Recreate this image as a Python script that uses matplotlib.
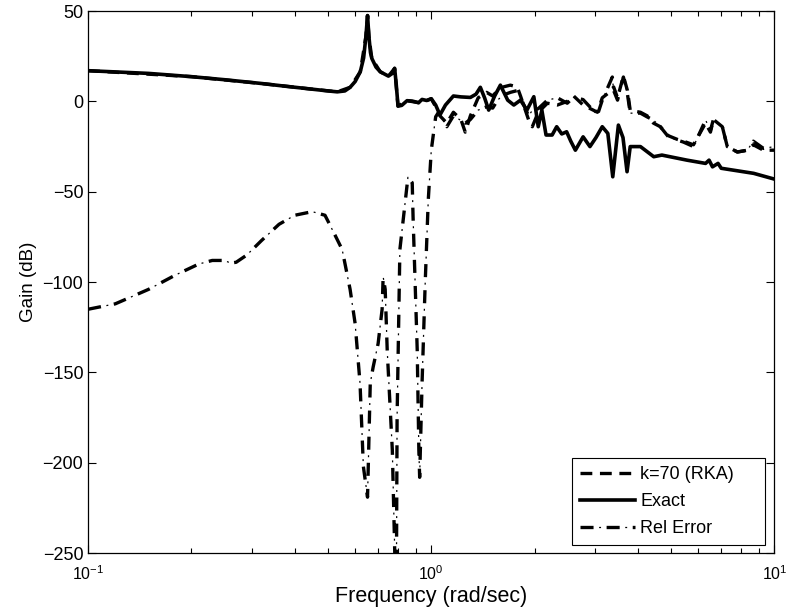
"""Frequency response: exact vs k=70 RKA reduced model and relative error."""
import numpy as np
import matplotlib
matplotlib.use('Agg')
import matplotlib.pyplot as plt

plt.rcParams['font.family'] = ['Liberation Sans', 'DejaVu Sans']
plt.rcParams['mathtext.fontset'] = 'custom'
plt.rcParams['mathtext.rm'] = 'Liberation Sans'
plt.rcParams['mathtext.it'] = 'Liberation Sans:italic'
plt.rcParams['mathtext.bf'] = 'Liberation Sans:bold'
plt.rcParams['lines.scale_dashes'] = False

# --- data (rad/sec, dB) ---
freq_exact = [0.1, 0.15, 0.2, 0.25, 0.317, 0.38, 0.453, 0.5, 0.532, 0.56, 0.58,
              0.6, 0.621, 0.635, 0.645, 0.652, 0.658, 0.665, 0.671, 0.69, 0.71,
              0.75, 0.77, 0.782, 0.79, 0.8, 0.82, 0.85, 0.88, 0.918, 0.94, 0.97,
              1.0, 1.03, 1.06, 1.1, 1.16, 1.22, 1.3, 1.35, 1.39, 1.43, 1.47, 1.53,
              1.59, 1.67, 1.74, 1.82, 1.9, 1.99, 2.05, 2.1, 2.16, 2.25, 2.32, 2.4,
              2.48, 2.55, 2.63, 2.77, 2.9, 3.02, 3.15, 3.27, 3.38, 3.51, 3.62,
              3.72, 3.8, 4.07, 4.45, 4.7, 5.56, 6.3, 6.45, 6.6, 6.85, 7.0, 8.7, 10.0]
gain_exact = [17, 15.5, 13.7, 12, 10, 8.3, 6.7, 5.8, 5.3, 5.8, 7.8,
              11, 16.4, 24, 36, 47.5, 36, 27, 23.8, 19, 16.4,
              14, 15.5, 18.3, 10, -2.6, -2.2, 0.4, 0.2, -0.7, 1.1, 0.5,
              1.5, -2, -7.5, -2, 3, 2.5, 2.2, 4, 7.8, 2, -4.8, 3,
              9, 0.7, -2, 0.7, -4.8, 2.6, -14, -4.8, -18.6, -18.6, -14, -18,
              -16.8, -22, -27, -19.6, -25, -20, -14, -17.7, -41.7, -13.1, -20,
              -38.9, -25, -25, -30.6, -29.7, -32.5, -34.3, -32.5, -36.2, -34.3, -37, -39.8, -43]

freq_rka = [0.1, 0.2, 0.317, 0.453, 0.532, 0.58, 0.621, 0.645, 0.652, 0.658,
            0.671, 0.71, 0.75, 0.782, 0.8, 0.85, 0.918, 0.97,
            1.0, 1.03, 1.06, 1.11, 1.16, 1.22, 1.256, 1.3, 1.37, 1.45, 1.51, 1.56,
            1.62, 1.7, 1.78, 1.82, 1.92, 1.97, 2.05, 2.18, 2.33, 2.49, 2.6, 2.77,
            3.05, 3.15, 3.3, 3.4, 3.49, 3.63, 3.73, 3.8, 4.07, 4.26, 4.44, 4.65,
            4.91, 5.21, 5.43, 5.81, 6.3, 6.51, 6.64, 7.05, 7.29, 7.8, 8.34, 8.68,
            9.29, 10.0]
gain_rka = [17, 13.7, 10, 6.7, 5.3, 7.8, 16.4, 36, 47.5, 36,
            23.8, 16.4, 14, 18.3, -2.6, 0.4, -0.7, 0.5,
            1.5, -3, -8, -12, -6, -10, -17, -8, 2, 5, 3, 6,
            8, 9, 8, 3, -10, -14, -6, -1, -2, 0, 3, -2,
            -6, 2, 5, 8, 2, 14, 6, -5, -6, -8, -12, -14,
            -19, -21, -22, -24, -12, -17, -10, -14, -25, -28, -27, -24,
            -27, -27]

freq_err = [0.1, 0.12, 0.15, 0.18, 0.21, 0.23, 0.25, 0.26, 0.27, 0.29, 0.32,
            0.36, 0.4, 0.45, 0.49, 0.518, 0.55, 0.58, 0.6, 0.62, 0.634, 0.652,
            0.664, 0.677, 0.7, 0.719, 0.724, 0.734, 0.744, 0.77, 0.785, 0.79,
            0.795, 0.81, 0.83, 0.855, 0.88, 0.885, 0.91, 0.92, 0.925, 0.94,
            0.96, 0.98, 1.0, 1.03, 1.05, 1.11, 1.16, 1.256, 1.3, 1.37, 1.45,
            1.51, 1.56, 1.62, 1.7, 1.78, 1.82, 1.92, 1.97, 2.05, 2.18, 2.33,
            2.49, 2.6, 2.77, 3.05, 3.15, 3.37, 3.4, 3.49, 3.63, 3.73, 3.8, 4.07,
            4.26, 4.44, 4.65, 4.91, 5.21, 5.43, 5.81, 6.3, 6.51, 6.64, 7.05,
            7.29, 7.8, 8.34, 8.68, 9.29, 10.0]
gain_err = [-115, -112, -104, -96, -90, -88, -88, -89.5, -89, -85, -77,
            -68, -63, -61, -63, -72, -82, -104, -123, -156, -202, -219,
            -156, -147, -134, -115, -97, -104, -137.6, -193, -260, -300,
            -175, -82, -64, -42, -45, -64, -137.6, -193, -208, -156,
            -100.5, -54.6, -27, -8.5, -6, -14, -8, -12, -10, -4.8, -3,
            -3.7, 0.7, 3.5, 5, 6, 2.4, -8, -5, -4, 0.7, 2,
            -1, 2.4, 1, -7.5, 0.7, 13.5, 6, 0.7, 13.5, 4, -6.5, -6.5,
            -8.6, -10.3, -14, -19.6, -21.4, -22.5, -25, -10.3, -16, -10, -14,
            -25, -28, -27, -22, -26, -25]

fig = plt.figure(figsize=(7.87, 6.14), dpi=100)
ax = fig.add_axes([0.112, 0.099, 0.872, 0.883])

l_rka, = ax.semilogx(freq_rka, gain_rka, color='black', lw=2.4,
                     linestyle=(0, (8.5, 5.5)))
l_exact, = ax.semilogx(freq_exact, gain_exact, color='black', lw=2.6,
                       solid_joinstyle='round')
# dash-dot drawn as thick dashes plus thin dots in the gaps (MATLAB look)
l_err1, = ax.semilogx(freq_err, gain_err, color='black', lw=2.4,
                      linestyle=(0, (9.4, 9.4)))
l_err2, = ax.semilogx(freq_err, gain_err, color='black', lw=0.9,
                      linestyle=(5.4, (1.4, 17.4)))

ax.set_xlim(0.1, 10)
ax.set_ylim(-250, 50)
ax.set_yticks(np.arange(-250, 51, 50))
ax.set_xlabel('Frequency (rad/sec)', fontsize=15.5, labelpad=2)
ax.set_ylabel('Gain (dB)', fontsize=13.5, labelpad=4)
ax.tick_params(which='both', direction='in', top=True, right=True, width=0.8)
ax.tick_params(axis='y', labelsize=13)
ax.tick_params(axis='x', labelsize=11.5, pad=8)
ax.tick_params(which='major', length=6)
ax.tick_params(which='minor', length=3.5)
for s in ax.spines.values():
    s.set_linewidth(0.9)

leg = ax.legend([l_rka, l_exact, (l_err1, l_err2)],
                ['k=70 (RKA)', 'Exact', 'Rel Error'],
                loc='lower left', bbox_to_anchor=(0.7055, 0.015, 0.2813, 0.2),
                mode='expand', borderaxespad=0, fontsize=13, handlelength=3.05,
                handletextpad=0.25, labelspacing=0.55, borderpad=0.45,
                fancybox=False, framealpha=1, edgecolor='black')
leg.get_frame().set_linewidth(0.8)

fig.savefig('out.png', dpi=100)
